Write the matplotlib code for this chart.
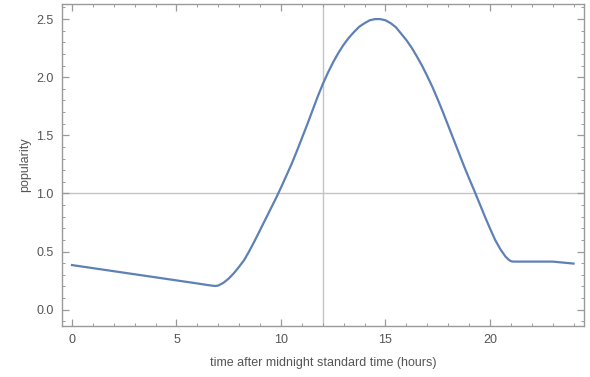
import matplotlib
matplotlib.use("Agg")
import matplotlib.pyplot as plt
from matplotlib.ticker import MultipleLocator

# popularity over the day
hours = [0, 3, 6.0, 6.5, 6.85, 7.0, 7.25, 7.5, 7.75, 8.0, 8.25, 8.5, 8.75,
         9.0, 9.25, 9.5, 9.75, 10.0, 10.25, 10.5, 10.75, 11.0, 11.25, 11.5,
         11.75, 12.0, 12.25, 12.5, 12.75, 13.0, 13.25, 13.5, 13.75, 14.0,
         14.25, 14.5, 14.75, 15.0, 15.25, 15.5, 15.75, 16.0, 16.25, 16.5,
         16.75, 17.0, 17.25, 17.5, 17.75, 18.0, 18.25, 18.5, 18.75, 19.0,
         19.25, 19.5, 19.75, 20.0, 20.25, 20.5, 20.75, 20.9, 21.0, 21.1,
         23.0, 24.0]
popularity = [0.384, 0.305, 0.226, 0.212, 0.204, 0.208, 0.232, 0.268, 0.315,
              0.37, 0.43, 0.51, 0.595, 0.685, 0.775, 0.865, 0.955, 1.05,
              1.15, 1.25, 1.36, 1.475, 1.59, 1.71, 1.83, 1.94, 2.04, 2.13,
              2.21, 2.28, 2.34, 2.39, 2.435, 2.465, 2.49, 2.50, 2.50, 2.49,
              2.465, 2.43, 2.375, 2.32, 2.255, 2.18, 2.10, 2.01, 1.915, 1.81,
              1.70, 1.585, 1.47, 1.355, 1.24, 1.13, 1.025, 0.915, 0.805,
              0.70, 0.60, 0.52, 0.456, 0.43, 0.418, 0.414, 0.414, 0.397]

plt.rcParams["font.family"] = ["Liberation Sans", "DejaVu Sans"]
text_col = "#555555"
frame_col = "#9a9a9a"

fig = plt.figure(figsize=(5.9, 3.77), dpi=100)
ax = fig.add_axes([0.105, 0.1353, 0.8848, 0.8541])

ax.plot(hours, popularity, color="#5E81B5", lw=1.6, solid_joinstyle="round")
ax.axvline(12, color="#c4c4c4", lw=1, zorder=0)
ax.axhline(1.0, color="#c4c4c4", lw=1, zorder=0)

ax.set_xlim(-0.48, 24.5)
ax.set_ylim(-0.14, 2.63)
ax.xaxis.set_major_locator(MultipleLocator(5))
ax.xaxis.set_minor_locator(MultipleLocator(1))
ax.yaxis.set_major_locator(MultipleLocator(0.5))
ax.yaxis.set_minor_locator(MultipleLocator(0.1))

ax.tick_params(which="both", direction="in", top=True, right=True,
               color=frame_col, labelcolor=text_col, labelsize=9)
ax.tick_params(which="major", length=5, width=0.9, pad=6)
ax.tick_params(which="minor", length=2.5, width=0.7)
for s in ax.spines.values():
    s.set_color(frame_col)
    s.set_linewidth(1.0)

ax.set_xlabel("time after midnight standard time (hours)", color=text_col, fontsize=9, labelpad=8)
ax.set_ylabel("popularity", color=text_col, fontsize=9, labelpad=4)

fig.savefig("out.png", dpi=100)
plt.close(fig)
